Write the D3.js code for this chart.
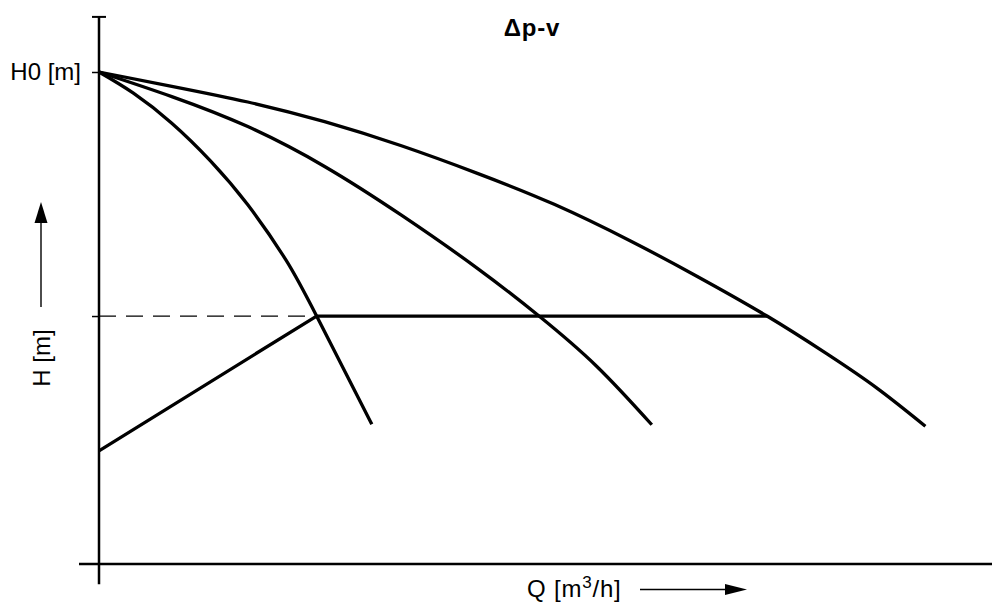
<!DOCTYPE html>
<html>
<head>
<meta charset="utf-8">
<title>Δp-v</title>
<script src="https://d3js.org/d3.v7.min.js"></script>
<style>
    body { margin: 0; background: #fff; }
    svg text { font-family: "Liberation Sans", Arial, sans-serif; fill: #000; }
    .curve { fill: none; stroke: #000; stroke-width: 3.3; }
</style>
</head>
<body>
<div id="chart"></div>
<script>
// pump curves at three speeds (Q in arbitrary units, H in m with H0 = 10)
var qCurve1 = [0, 0.43, 0.91, 1.39, 1.86, 2.34, 2.72, 3.41];
var hCurve1 = [10, 9.57, 8.96, 8.2, 7.3, 6.17, 5.04, 2.84];
var qCurve2 = [0, 0.91, 1.86, 2.82, 3.78, 4.73, 5.5, 6.22, 6.91];
var hCurve2 = [10, 9.5, 8.89, 8.08, 7.09, 6.01, 5.04, 4.02, 2.83];
var qCurve3 = [0, 0.91, 1.86, 2.82, 3.78, 4.73, 5.69, 6.65, 7.45, 8.35, 9.1, 9.72, 10.33];
var hCurve3 = [10, 9.71, 9.39, 8.99, 8.5, 7.94, 7.31, 6.56, 5.87, 5.04, 4.27, 3.58, 2.8];

// delta-p variable control line
var qControl = [0, 2.72, 8.35];
var hControl = [2.3, 5.04, 5.04];
var hHalf = 5.04;
var H0 = 10;

var title = "\u0394p-v";
var yLabel = "H [m]";
var yTickLabel = "H0 [m]";

var width = 992, height = 610;
var x = d3.scaleLinear().domain([0, 11]).range([99, 979]);
var y = d3.scaleLinear().domain([0, 10]).range([564, 72]);

var svg = d3.select("#chart").append("svg")
    .attr("width", width)
    .attr("height", height);

var line = d3.line()
    .x(function(d) { return x(d[0]); })
    .y(function(d) { return y(d[1]); })
    .curve(d3.curveNatural);

// axes
svg.append("line")
    .attr("x1", x(-0.25)).attr("x2", width)
    .attr("y1", y(0)).attr("y2", y(0))
    .attr("stroke", "#000").attr("stroke-width", 2.5);
svg.append("line")
    .attr("x1", x(0)).attr("x2", x(0))
    .attr("y1", y(-0.41)).attr("y2", y(11.12))
    .attr("stroke", "#000").attr("stroke-width", 2.5);
svg.append("line")
    .attr("x1", x(0) - 7).attr("x2", x(0) + 7)
    .attr("y1", y(11.12)).attr("y2", y(11.12))
    .attr("stroke", "#000").attr("stroke-width", 2);

var yAxis = d3.axisLeft(y)
    .tickValues([H0, hHalf])
    .tickSize(7)
    .tickPadding(11)
    .tickFormat(function(d) { return d === H0 ? yTickLabel : ""; });
var gy = svg.append("g")
    .attr("transform", "translate(" + x(0) + ",0)")
    .call(yAxis);
gy.select(".domain").remove();
gy.selectAll(".tick line").attr("stroke", "#000").attr("stroke-width", 1.5);
gy.selectAll(".tick text")
    .attr("font-size", 24)
    .attr("font-family", "Liberation Sans, Arial, sans-serif");

// dashed reference at H0/2
svg.append("line")
    .attr("x1", x(0)).attr("x2", x(qControl[1]))
    .attr("y1", y(hHalf)).attr("y2", y(hHalf))
    .attr("stroke", "#000").attr("stroke-width", 1.3)
    .attr("stroke-dasharray", "17,10");

// curves
[[qCurve1, hCurve1], [qCurve2, hCurve2], [qCurve3, hCurve3]].forEach(function(c) {
    svg.append("path")
        .attr("class", "curve")
        .attr("d", line(c[0].map(function(q, i) { return [q, c[1][i]]; })));
});

svg.append("path")
    .attr("class", "curve")
    .attr("stroke-linejoin", "miter")
    .attr("d", d3.line()
        .x(function(d) { return x(d[0]); })
        .y(function(d) { return y(d[1]); })(qControl.map(function(q, i) { return [q, hControl[i]]; })));

// title
svg.append("text")
    .attr("x", 532).attr("y", 36)
    .attr("text-anchor", "middle")
    .attr("font-size", 24)
    .attr("font-weight", "bold")
    .attr("letter-spacing", 0.8)
    .text(title);

// y label with arrow
svg.append("text")
    .attr("transform", "translate(50,358) rotate(-90)")
    .attr("text-anchor", "middle")
    .attr("font-size", 24)
    .text(yLabel);
svg.append("line")
    .attr("x1", 41).attr("x2", 41)
    .attr("y1", 307).attr("y2", 220)
    .attr("stroke", "#000").attr("stroke-width", 1.4);
svg.append("path")
    .attr("d", "M41,202 L47.5,223 L34.5,223 Z")
    .attr("fill", "#000");

// x label with arrow
var xl = svg.append("text")
    .attr("x", 527).attr("y", 597)
    .attr("font-size", 24)
    .attr("letter-spacing", 0.8);
xl.append("tspan").text("Q [m");
xl.append("tspan").attr("dy", -9).attr("font-size", 17).text("3");
xl.append("tspan").attr("dy", 9).text("/h]");
svg.append("line")
    .attr("x1", 640).attr("x2", 728)
    .attr("y1", 589.5).attr("y2", 589.5)
    .attr("stroke", "#000").attr("stroke-width", 1.4);
svg.append("path")
    .attr("d", "M747,589.5 L725,584 L725,595 Z")
    .attr("fill", "#000");
</script>
</body>
</html>
